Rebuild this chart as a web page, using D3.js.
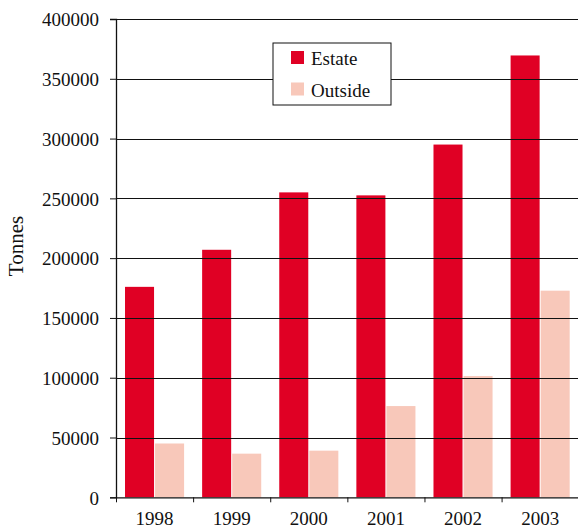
<!DOCTYPE html>
<html>
<head>
<meta charset="utf-8">
<script src="https://cdn.jsdelivr.net/npm/d3@7"></script>
<style>
  html, body { margin: 0; padding: 0; background: #fff; }
  svg { display: block; }
  text { fill: #111; }
</style>
</head>
<body>
<svg id="chart" width="578" height="527"></svg>
<script>
// Annual production, tonnes
const years = ["1998", "1999", "2000", "2001", "2002", "2003"];
const estate = [176000, 207000, 255000, 252500, 295000, 369500];
const outside = [45000, 36500, 39000, 76300, 101400, 172800];
const seriesNames = ["Estate", "Outside"];
const yTicks = [0, 50000, 100000, 150000, 200000, 250000, 300000, 350000, 400000];

const colors = { Estate: "#E00024", Outside: "#F8C8BA" };
const FONT = "'Liberation Serif', 'Times New Roman', serif";

const svg = d3.select("#chart").attr("font-family", FONT);
const W = 578;
const plotLeft = 116, plotTop = 19;
const plotRight = 578.7;
const plotBottom = 497.3;

const x = d3.scaleBand().domain(years).range([plotLeft, plotRight]).paddingInner(0).paddingOuter(0);
const inner = d3.scaleBand().domain(seriesNames).range([0, x.bandwidth()]).paddingInner(0.034).paddingOuter(0.3);
const y = d3.scaleLinear().domain([0, 400000]).range([plotBottom, plotTop]);

const rows = years.map((yr, i) => ({ year: yr, values: [
  { key: "Estate", value: estate[i] },
  { key: "Outside", value: outside[i] }
]}));

// bars
svg.append("g").selectAll("g").data(rows).join("g")
  .attr("transform", d => `translate(${x(d.year)},0)`)
  .selectAll("rect").data(d => d.values).join("rect")
  .attr("x", d => inner(d.key))
  .attr("width", inner.bandwidth())
  .attr("y", d => y(d.value))
  .attr("height", d => y(0) - y(d.value))
  .attr("fill", d => colors[d.key]);

// horizontal gridlines over the bars
svg.append("g").selectAll("line").data(yTicks.slice(1)).join("line")
  .attr("x1", plotLeft).attr("x2", W)
  .attr("y1", d => Math.round(y(d)) + 0.5).attr("y2", d => Math.round(y(d)) + 0.5)
  .attr("stroke", "#111").attr("stroke-width", 1);

// y axis
const yAxis = d3.axisLeft(y).tickValues(yTicks).tickSize(6).tickPadding(11).tickFormat(d3.format("d"));
const gy = svg.append("g").attr("transform", `translate(${plotLeft},0)`).call(yAxis)
  .attr("font-family", FONT).attr("font-size", 19);
gy.select(".domain").attr("stroke", "#111").attr("stroke-width", 1.3);
gy.selectAll(".tick line").attr("stroke", "#111");
gy.selectAll(".tick text").attr("fill", "#111").attr("dy", "0.36em");

// x axis
const xAxis = d3.axisBottom(x).tickSize(0).tickPadding(14.5);
const gx = svg.append("g").attr("transform", `translate(0,${plotBottom})`).call(xAxis)
  .attr("font-family", FONT).attr("font-size", 19);
gx.select(".domain").attr("stroke", "#111").attr("stroke-width", 1.3);
gx.selectAll(".tick text").attr("fill", "#111");
// boundary ticks between categories
gx.append("g").selectAll("line").data(years).join("line")
  .attr("x1", d => x(d) + 0.5).attr("x2", d => x(d) + 0.5)
  .attr("y1", 0).attr("y2", 5)
  .attr("stroke", "#111");

// y axis title
svg.append("text")
  .attr("transform", `translate(23,246) rotate(-90)`)
  .attr("text-anchor", "middle")
  .attr("font-size", 21)
  .text("Tonnes");

// legend
const lg = svg.append("g").attr("transform", "translate(273,43)");
lg.append("rect").attr("x", 0).attr("y", 0).attr("width", 118).attr("height", 62)
  .attr("fill", "#fff").attr("stroke", "#111").attr("stroke-width", 1);
seriesNames.forEach((s, i) => {
  lg.append("rect").attr("x", 18).attr("y", 8 + i * 31.5).attr("width", 13).attr("height", 13)
    .attr("fill", colors[s]);
  lg.append("text").attr("x", 38).attr("y", 22 + i * 31.5)
    .attr("font-size", 19).text(s);
});
</script>
</body>
</html>
